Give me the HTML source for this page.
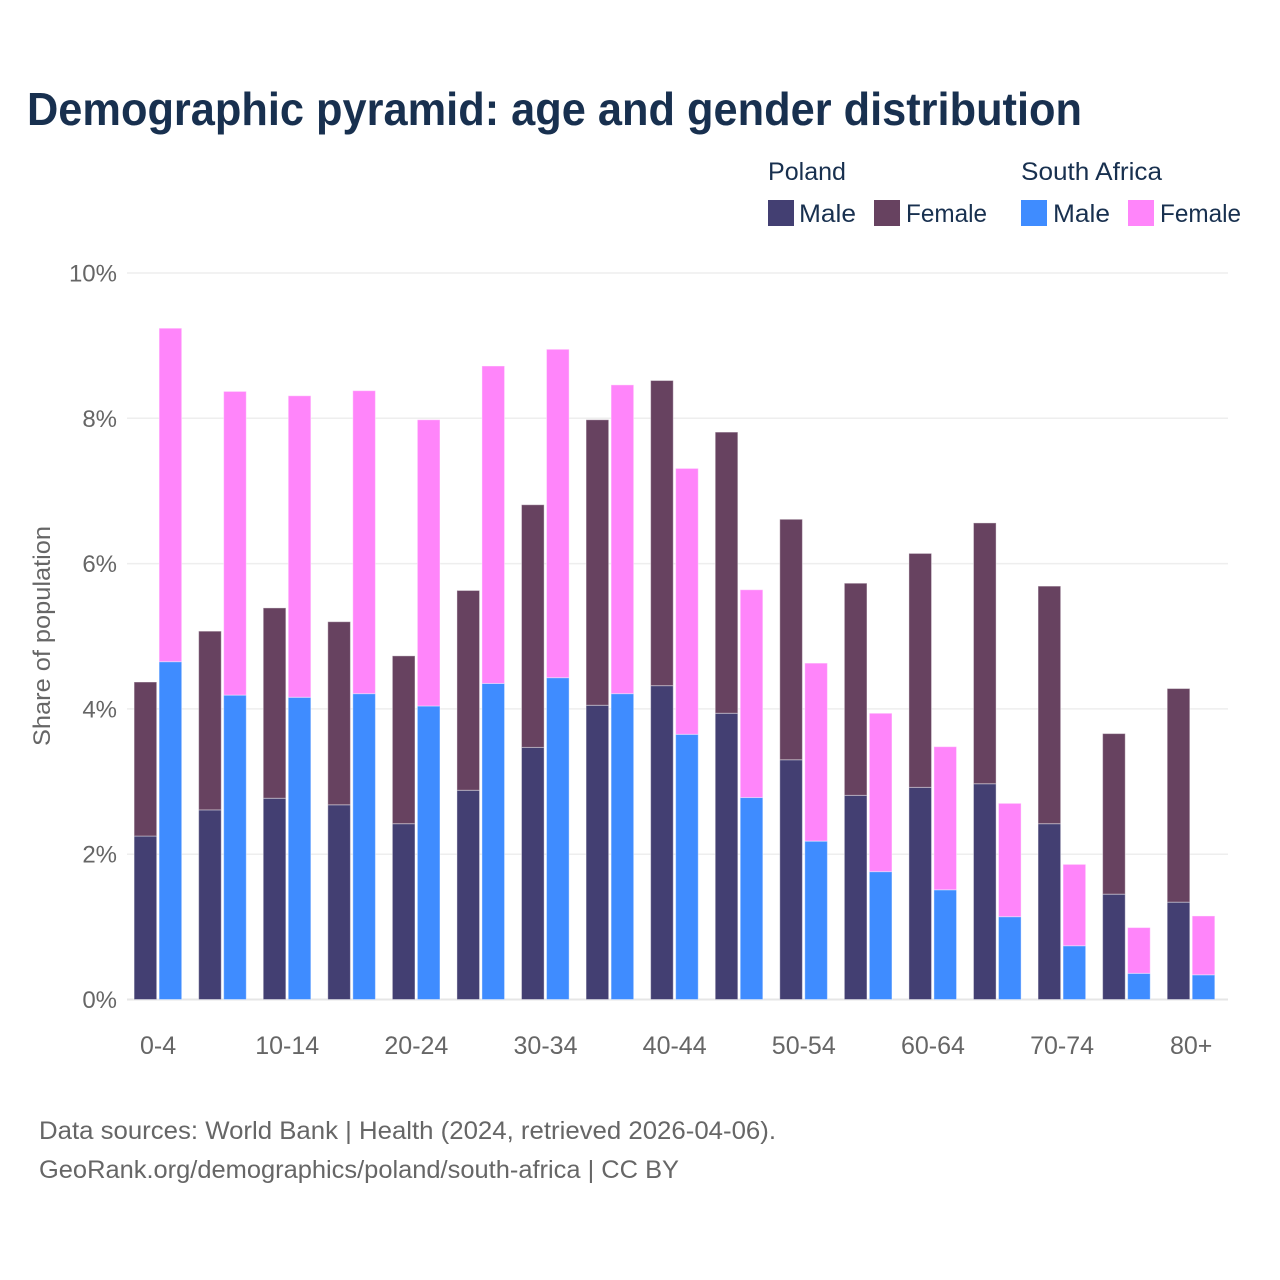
<!DOCTYPE html>
<html lang="en">
<head>
<meta charset="utf-8">
<title>Demographic pyramid: age and gender distribution</title>
<style>
  html, body { margin: 0; padding: 0; background: #fff; }
  svg { display: block; font-family: "Liberation Sans", sans-serif; }
</style>
</head>
<body>
<svg id="chart" xmlns="http://www.w3.org/2000/svg" width="1280" height="1280" viewBox="0 0 1280 1280">
  <rect x="0" y="0" width="1280" height="1280" fill="#ffffff"/>
  <text x="27" y="125" font-size="46" font-weight="700" fill="#18304f" textLength="1055" lengthAdjust="spacingAndGlyphs">Demographic pyramid: age and gender distribution</text>

  <g id="grid"></g>
  <g id="bars"></g>
  <g id="y-ticks"></g>
  <g id="x-ticks"></g>

  <text transform="translate(50,636) rotate(-90)" text-anchor="middle" font-size="24" fill="#666666" textLength="220" lengthAdjust="spacingAndGlyphs">Share of population</text>

  <g>
    <text x="768" y="180" font-size="25" fill="#18304f" textLength="78" lengthAdjust="spacingAndGlyphs">Poland</text>
    <rect x="768" y="200" width="26" height="26" fill="#433f72"/>
    <text x="799" y="222" font-size="25" fill="#18304f" textLength="57" lengthAdjust="spacingAndGlyphs">Male</text>
    <rect x="874" y="200" width="26" height="26" fill="#674260"/>
    <text x="906" y="222" font-size="25" fill="#18304f" textLength="81" lengthAdjust="spacingAndGlyphs">Female</text>

    <text x="1021" y="180" font-size="25" fill="#18304f" textLength="141" lengthAdjust="spacingAndGlyphs">South Africa</text>
    <rect x="1021" y="200" width="26" height="26" fill="#3f8cff"/>
    <text x="1053" y="222" font-size="25" fill="#18304f" textLength="57" lengthAdjust="spacingAndGlyphs">Male</text>
    <rect x="1128" y="200" width="26" height="26" fill="#ff85fa"/>
    <text x="1160" y="222" font-size="25" fill="#18304f" textLength="81" lengthAdjust="spacingAndGlyphs">Female</text>
  </g>

  <text x="39" y="1139" font-size="25" fill="#666666" textLength="737" lengthAdjust="spacingAndGlyphs">Data sources: World Bank | Health (2024, retrieved 2026-04-06).</text>
  <text x="39" y="1178" font-size="25" fill="#666666" textLength="640" lengthAdjust="spacingAndGlyphs">GeoRank.org/demographics/poland/south-africa | CC BY</text>
</svg>

<script>
const categories = ["0-4","5-9","10-14","15-19","20-24","25-29","30-34","35-39","40-44","45-49","50-54","55-59","60-64","65-69","70-74","75-79","80+"];
const polandMale = [2.25,2.61,2.77,2.68,2.42,2.88,3.47,4.05,4.32,3.94,3.30,2.81,2.92,2.97,2.42,1.45,1.34];
const polandFemale = [2.12,2.46,2.62,2.52,2.31,2.75,3.34,3.93,4.20,3.87,3.31,2.92,3.22,3.59,3.27,2.21,2.94];
const southAfricaMale = [4.65,4.19,4.16,4.21,4.04,4.35,4.43,4.21,3.65,2.78,2.18,1.76,1.51,1.14,0.74,0.36,0.34];
const southAfricaFemale = [4.59,4.18,4.15,4.17,3.94,4.37,4.52,4.25,3.66,2.86,2.45,2.18,1.97,1.56,1.12,0.63,0.81];
const yTicks = [0,2,4,6,8,10];

const NS = "http://www.w3.org/2000/svg";
const yScale = function (v) { return 999.5 - v * 72.65; };
const xScale = function (i) { return 157.9 + i * (1033.1 / (categories.length - 1)); };
const BAR_W = 22.6;
const PAIR_GAP = 2.4;

function make(tag, attrs, parent) {
  const el = document.createElementNS(NS, tag);
  Object.keys(attrs).forEach(function (k) { el.setAttribute(k, attrs[k]); });
  parent.appendChild(el);
  return el;
}

const gridG = document.getElementById("grid");
const yG = document.getElementById("y-ticks");
yTicks.forEach(function (t) {
  const line = make("line", {
    x1: 127, x2: 1228, y1: yScale(t), y2: yScale(t),
    stroke: t === 0 ? "#e6e6e6" : "#eeeeee",
    "stroke-width": t === 0 ? 2 : 1.5
  }, gridG);
  
  
  const label = make("text", {
    x: 117, y: yScale(t) + 8.5, "text-anchor": "end", "font-size": 24, fill: "#666666"
  }, yG);
  
  
  label.textContent = t + "%";
});

const xG = document.getElementById("x-ticks");
categories.forEach(function (c, i) {
  if (i % 2 !== 0) return;
  const label = make("text", {
    x: xScale(i) + 0.2, y: 1054, "text-anchor": "middle", "font-size": 25, fill: "#666666"
  }, xG);
  
  
  label.textContent = c;
});

const barsG = document.getElementById("bars");
function drawBar(x, base, value, color) {
  const top = yScale(base + value);
  const bar = make("rect", {
    x: x, y: top, width: BAR_W, height: yScale(base) - top,
    fill: color, stroke: "#ffffff", "stroke-opacity": 0.4, "stroke-width": 1
  }, barsG);
  
  
}
categories.forEach(function (c, i) {
  const left = xScale(i) - PAIR_GAP / 2 - BAR_W;
  const right = xScale(i) + PAIR_GAP / 2;
  drawBar(left, 0, polandMale[i], "#433f72");
  drawBar(left, polandMale[i], polandFemale[i], "#674260");
  drawBar(right, 0, southAfricaMale[i], "#3f8cff");
  drawBar(right, southAfricaMale[i], southAfricaFemale[i], "#ff85fa");
});
</script>
</body>
</html>
